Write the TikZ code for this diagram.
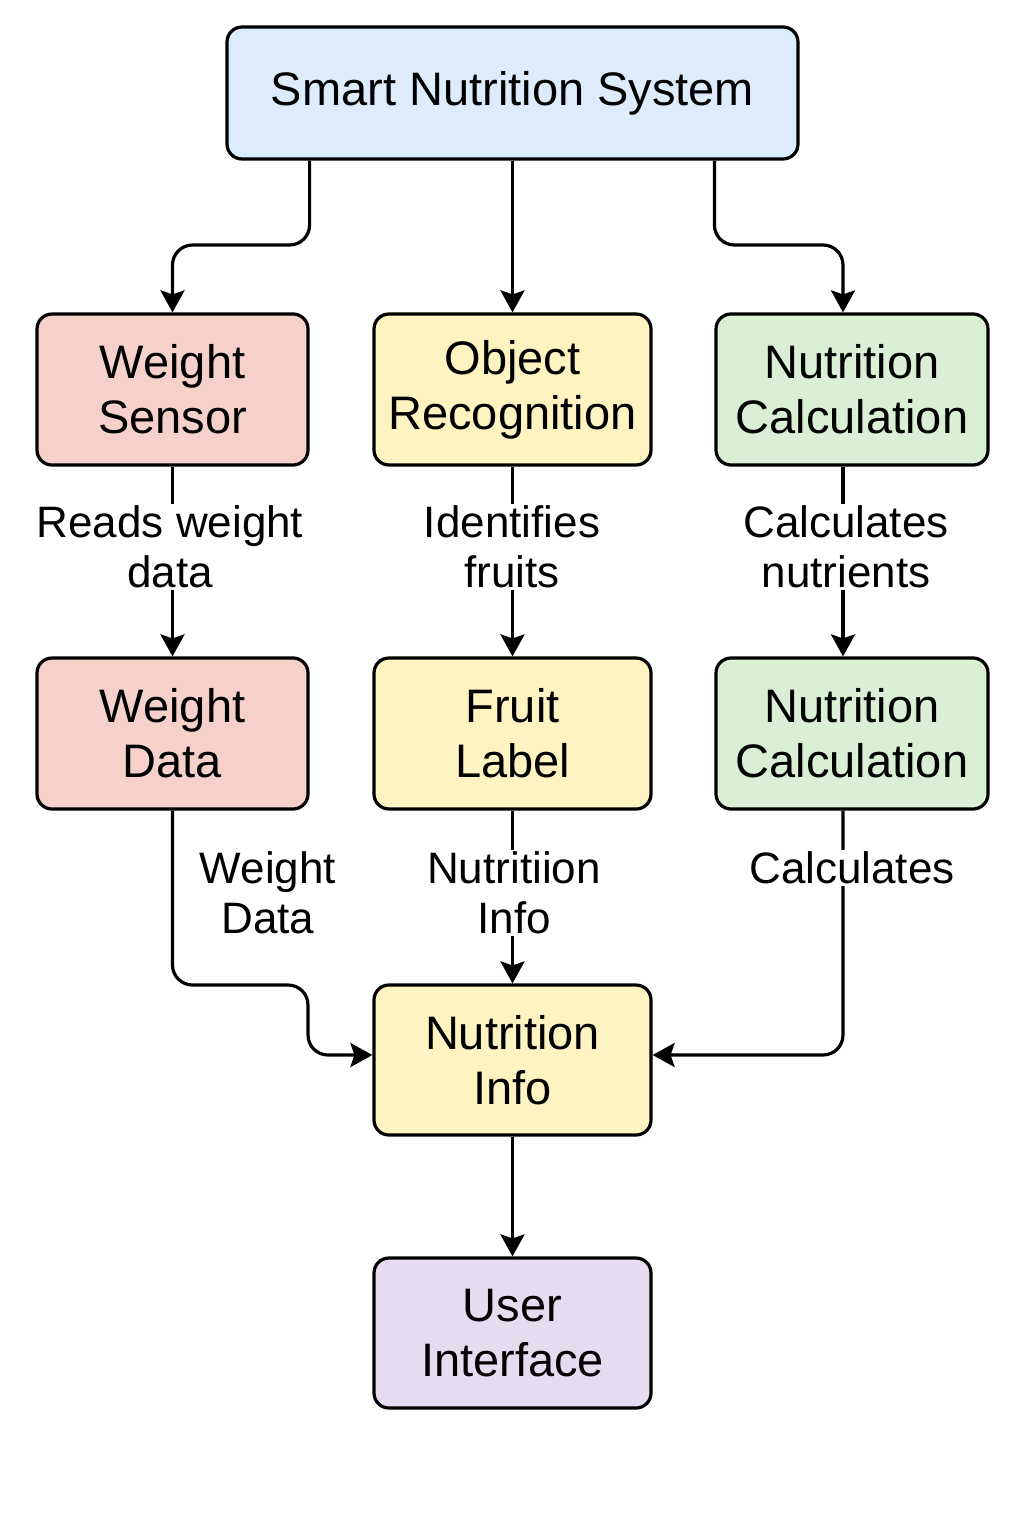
\documentclass[tikz,border=0pt]{standalone}
\usepackage{fontspec}
\setmainfont{Liberation Sans}
\usetikzlibrary{arrows.meta}
\definecolor{cblue}{HTML}{DDECFC}
\definecolor{cred}{HTML}{F5D1C9}
\definecolor{cyel}{HTML}{FFF3C2}
\definecolor{cgrn}{HTML}{D9F0D4}
\definecolor{cpur}{HTML}{E6DCEF}
\begin{document}
\begin{tikzpicture}[x=0.5pt,y=-0.5pt,
 box/.style={draw=black, line width=1.6pt, rounded corners=7.5pt, align=center, inner sep=0pt, font=\fontsize{23.5}{27.5}\selectfont},
 lbl/.style={fill=white, align=center, inner sep=1pt, font=\fontsize{22}{25}\selectfont},
 arr/.style={line width=1.6pt, rounded corners=10pt, -{Stealth[length=11pt,width=12pt,inset=2pt]}}]
\useasboundingbox (0,0) rectangle (1024,1536);
\fill[white] (0,0) rectangle (1024,1536);
% nodes
\node[box, fill=cblue, minimum width=285.5pt, minimum height=66pt] (top) at (512.5,93) {Smart Nutrition System};
\node[box, fill=cred, minimum width=135.5pt, minimum height=75.5pt] (ws) at (172.5,389.5) {Weight\\Sensor};
\node[box, fill=cyel, minimum width=138.5pt, minimum height=75.5pt] (or) at (512.5,389.5) {Object\\Recognition};
\node[box, fill=cgrn, minimum width=136pt, minimum height=75.5pt] (nc1) at (852,389.5) {Nutrition\\Calculation};
\node[box, fill=cred, minimum width=135.5pt, minimum height=75.5pt] (wd) at (172.5,733.5) {Weight\\Data};
\node[box, fill=cyel, minimum width=138.5pt, minimum height=75.5pt] (fl) at (512.5,733.5) {Fruit\\Label};
\node[box, fill=cgrn, minimum width=136pt, minimum height=75.5pt] (nc2) at (852,733.5) {Nutrition\\Calculation};
\node[box, fill=cyel, minimum width=138.5pt, minimum height=75pt] (ni) at (512.5,1060) {Nutrition\\Info};
\node[box, fill=cpur, minimum width=138.5pt, minimum height=75pt] (ui) at (512.5,1333) {User\\Interface};
% helper coordinates
\coordinate (y245) at (0,245);
\coordinate (rx) at (843,0);
\coordinate (y985) at (0,985);
\coordinate (x308) at (308,0);
\coordinate (y1055) at (0,1055);
% connectors
\draw[arr] (top.south -| ws.east) -- (ws.east |- y245) -| (ws.north);
\draw[arr] (top.south) -- (or.north);
\draw[arr] (top.south -| nc1.west) -- (nc1.west |- y245) -| (rx |- nc1.north);
\draw[arr] (ws.south) -- (wd.north);
\draw[arr] (or.south) -- (fl.north);
\draw[arr] (rx |- nc1.south) -- (rx |- nc2.north);
\draw[arr] (wd.south) -- (wd.south |- y985) -- (x308 |- y985) -- (x308 |- y1055) -- (ni.west |- y1055);
\draw[arr] (fl.south) -- (ni.north);
\draw[arr] (rx |- nc2.south) -- (rx |- y1055) -- (ni.east |- y1055);
\draw[arr] (ni.south) -- (ui.north);
% labels
\node[lbl] (l1) at (170,547) {Reads weight\\data};
\node[lbl] (l2) at (512,547) {Identifies\\fruits};
\node[lbl] (l3) at (846,547) {Calculates\\nutrients};
\node[lbl, fill=none] (l4) at (268,893) {Weight\\Data};
\node[lbl] (l5) at (514,893) {Nutritiion\\Info};
\node[lbl] (l6) at (852,868) {Calculates};
\end{tikzpicture}
\end{document}
